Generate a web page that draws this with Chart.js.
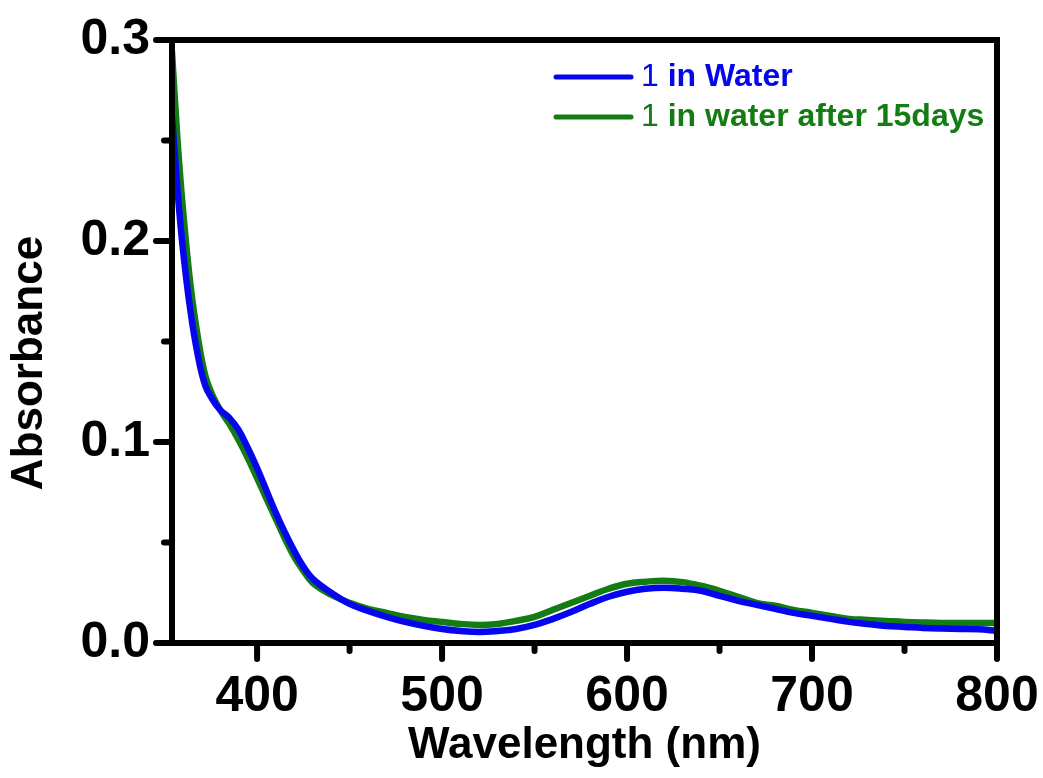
<!DOCTYPE html>
<html>
<head>
<meta charset="utf-8">
<script src="https://cdn.jsdelivr.net/npm/chart.js@4"></script>
<style>
  html, body { margin: 0; padding: 0; background: #fff; }
  #wrap { width: 1043px; height: 778px; }
</style>
</head>
<body>
<div id="wrap"><canvas id="grafico" width="1043" height="778"></canvas></div>
<script>
// Comprimentos de onda (nm)
const wavelengths = [354, 357, 360, 364, 368, 372, 376, 380, 385, 390, 395, 400, 405, 410, 415, 420, 425, 430, 440, 450,
    460, 470, 480, 490, 500, 510, 520, 530, 540, 550, 560, 570, 580, 590, 600, 610, 620, 630, 640, 650,
    660, 670, 680, 690, 700, 710, 720, 730, 740, 750, 760, 770, 780, 790, 800];

// 1 em água
const absWater = [0.262, 0.225, 0.195, 0.165, 0.143, 0.128, 0.121, 0.116, 0.112, 0.106, 0.097, 0.087, 0.076, 0.065, 0.055, 0.046, 0.038, 0.032, 0.025, 0.0195,
    0.016, 0.013, 0.0105, 0.0085, 0.007, 0.006, 0.0055, 0.006, 0.007, 0.009, 0.012, 0.0155, 0.0195, 0.023, 0.0255, 0.027, 0.0275, 0.027, 0.026, 0.0235,
    0.021, 0.019, 0.017, 0.015, 0.0135, 0.012, 0.0105, 0.0095, 0.0085, 0.008, 0.0075, 0.0072, 0.007, 0.0068, 0.006];

// 1 em água após 15 dias
const absWater15 = [0.294, 0.250, 0.215, 0.178, 0.152, 0.133, 0.123, 0.116, 0.109, 0.101, 0.092, 0.082, 0.072, 0.062, 0.052, 0.043, 0.036, 0.030, 0.024, 0.020,
    0.017, 0.015, 0.013, 0.0115, 0.0105, 0.0095, 0.009, 0.0095, 0.011, 0.013, 0.0165, 0.020, 0.0235, 0.027, 0.0295, 0.0305, 0.031, 0.0303, 0.0285, 0.026,
    0.023, 0.020, 0.0185, 0.0165, 0.015, 0.0135, 0.012, 0.0115, 0.011, 0.0105, 0.0102, 0.010, 0.010, 0.010, 0.010];

const seriesLabels = ['1 in Water', '1 in water after 15days'];
const xTicks = [400, 500, 600, 700, 800];
const yTicks = [0.0, 0.1, 0.2, 0.3];

const FONT = "'Liberation Sans', Arial, sans-serif";
const BLUE = '#0606ee';
const GREEN = '#137c13';

function pontos(ys) {
    return wavelengths.map((x, i) => ({ x: x, y: ys[i] }));
}

// Moldura, marcas maiores/menores, título do eixo y e legenda
const molduraPlugin = {
    id: 'moldura',
    afterDatasetsDraw(chart) {
        const ctx = chart.ctx;
        const a = chart.chartArea;
        const xs = chart.scales.x, ys = chart.scales.y;
        ctx.save();
        ctx.strokeStyle = '#000';
        ctx.lineWidth = 6;
        ctx.lineCap = 'butt';
        ctx.strokeRect(a.left, a.top, a.right - a.left, a.bottom - a.top);

        ctx.lineCap = 'round';
        for (let v = 0; v <= 0.3001; v += 0.05) {
            const y = ys.getPixelForValue(v);
            const major = Math.round(v * 100) % 10 === 0;
            ctx.beginPath();
            ctx.moveTo(a.left, y);
            ctx.lineTo(a.left - (major ? 16 : 8), y);
            ctx.stroke();
        }
        for (let v = 400; v <= 800; v += 50) {
            const x = xs.getPixelForValue(v);
            const major = v % 100 === 0;
            ctx.beginPath();
            ctx.moveTo(x, a.bottom);
            ctx.lineTo(x, a.bottom + (major ? 16 : 8));
            ctx.stroke();
        }
        ctx.restore();
    },
    afterDraw(chart) {
        const ctx = chart.ctx;
        ctx.save();
        // título do eixo y
        ctx.translate(30, 363);
        ctx.rotate(-Math.PI / 2);
        ctx.fillStyle = '#000';
        ctx.font = 'bold 44px ' + FONT;
        ctx.textAlign = 'center';
        ctx.textBaseline = 'middle';
        ctx.fillText('Absorbance', 0, 0);
        ctx.restore();

        // legenda
        const linhasY = [77, 117];
        chart.data.datasets.forEach((ds, i) => {
            const y = linhasY[i];
            ctx.save();
            ctx.strokeStyle = ds.borderColor;
            ctx.lineWidth = 5;
            ctx.lineCap = 'round';
            ctx.beginPath();
            ctx.moveTo(556, y);
            ctx.lineTo(631, y);
            ctx.stroke();
            ctx.fillStyle = ds.borderColor;
            ctx.textBaseline = 'middle';
            const partes = ds.label.split(' ');
            const primeiro = partes.shift();
            ctx.font = '32px ' + FONT;
            ctx.fillText(primeiro, 641, y);
            const w = ctx.measureText(primeiro + ' ').width;
            ctx.font = 'bold 32px ' + FONT;
            ctx.fillText(partes.join(' '), 641 + w, y);
            ctx.restore();
        });
    }
};

window.addEventListener('DOMContentLoaded', () => {
    const ctx = document.getElementById('grafico').getContext('2d');
    new Chart(ctx, {
        type: 'line',
        data: {
            datasets: [{
                label: seriesLabels[0],
                data: pontos(absWater),
                borderColor: BLUE,
                borderWidth: 6.5,
                pointRadius: 0,
                tension: 0.4,
                fill: false
            }, {
                label: seriesLabels[1],
                data: pontos(absWater15),
                borderColor: GREEN,
                borderWidth: 6.5,
                pointRadius: 0,
                tension: 0.4,
                fill: false
            }]
        },
        options: {
            responsive: false,
            animation: false,
            layout: { padding: { left: 0, top: 40, right: 46, bottom: 0 } },
            plugins: {
                legend: { display: false },
                tooltip: { enabled: false }
            },
            scales: {
                x: {
                    type: 'linear',
                    min: 354,
                    max: 800,
                    afterFit(scale) {
                        scale.height = 135;
                        scale.paddingLeft = 0;
                        scale.paddingRight = 0;
                    },
                    afterBuildTicks(scale) { scale.ticks = xTicks.map(v => ({ value: v })); },
                    grid: { display: false, drawTicks: false },
                    border: { display: false },
                    ticks: {
                        padding: 24,
                        color: '#000',
                        font: { family: FONT, size: 50, weight: 'bold' },
                        maxRotation: 0,
                        callback: v => String(v)
                    },
                    title: {
                        display: true,
                        text: 'Wavelength (nm)',
                        color: '#000',
                        font: { family: FONT, size: 44, weight: 'bold' },
                        padding: { top: 0, bottom: 6 }
                    }
                },
                y: {
                    min: 0,
                    max: 0.3,
                    afterFit(scale) {
                        scale.width = 172;
                        scale.paddingTop = 0;
                        scale.paddingBottom = 0;
                    },
                    afterBuildTicks(scale) { scale.ticks = yTicks.map(v => ({ value: v })); },
                    grid: { display: false, drawTicks: false },
                    border: { display: false },
                    ticks: {
                        padding: 22,
                        color: '#000',
                        font: { family: FONT, size: 50, weight: 'bold' },
                        callback: v => v.toFixed(1)
                    }
                }
            }
        },
        plugins: [molduraPlugin]
    });
});
</script>
</body>
</html>
